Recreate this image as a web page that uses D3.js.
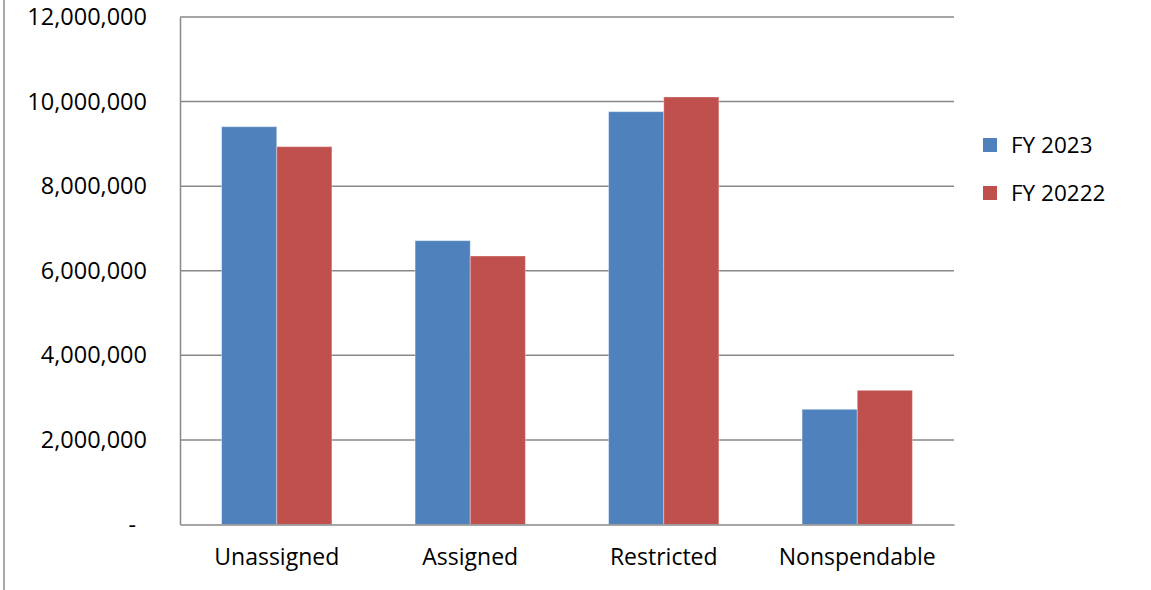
<!DOCTYPE html>
<html>
<head>
<meta charset="utf-8">
<script src="https://cdn.jsdelivr.net/npm/d3@7"></script>
<style>
  body { margin: 0; background: #fff; }
  text { font-family: "Open Sans", "Liberation Sans", sans-serif; fill: #000; }
</style>
</head>
<body>
<div class="chart"></div>
<script>
const categories = ["Unassigned", "Assigned", "Restricted", "Nonspendable"]
const seriesNames = ["FY 2023", "FY 20222"]
const fy2023 = [9406000, 6711000, 9761000, 2724000]
const fy2022 = [8934000, 6349000, 10109000, 3173000]
const yTicks = [0, 2000000, 4000000, 6000000, 8000000, 10000000, 12000000]
const colors = ["#4F81BD", "#C0504D"]

const width = 1151, height = 590
const margin = { top: 17, right: 197, bottom: 65.5, left: 180 }

const svg = d3.select(".chart")
  .append("svg")
  .attr("width", width)
  .attr("height", height)

// outer frame edge on the left
svg.append("line")
  .attr("x1", 4).attr("x2", 4)
  .attr("y1", 0).attr("y2", height)
  .attr("stroke", "#8c8c8c")
  .attr("stroke-width", 1.5)

const innerW = width - margin.left - margin.right
const innerH = height - margin.top - margin.bottom

const g = svg.append("g")
  .attr("transform", `translate(${margin.left},${margin.top})`)

const x = d3.scaleBand()
  .domain(categories)
  .range([0, innerW])
  .paddingInner(0.43)
  .paddingOuter(0.215)

const x1 = d3.scaleBand()
  .domain(seriesNames)
  .range([0, x.bandwidth()])

const y = d3.scaleLinear()
  .domain([0, 12000000])
  .range([innerH, 0])

// gridlines
g.selectAll(".grid")
  .data(yTicks.slice(1))
  .enter()
  .append("line")
  .attr("x1", 0).attr("x2", innerW)
  .attr("y1", d => y(d)).attr("y2", d => y(d))
  .attr("stroke", "#888")
  .attr("stroke-width", 1.5)

const fmt = d3.format(",")
const yAxis = g.append("g")
  .call(d3.axisLeft(y).tickValues(yTicks).tickSize(0).tickPadding(33)
    .tickFormat(d => d === 0 ? "-" : fmt(d)))
yAxis.select(".domain").attr("stroke", "#888").attr("stroke-width", 1.5)
yAxis.selectAll("text")
  .style("font-size", "23.5px")
  .attr("dx", d => d === 0 ? -11 : 0)

const rows = categories.map((c, i) => ({ cat: c, values: [fy2023[i], fy2022[i]] }))

const groups = g.selectAll(".cat")
  .data(rows)
  .enter()
  .append("g")
  .attr("transform", d => `translate(${x(d.cat)},0)`)

groups.selectAll("rect")
  .data(d => d.values.map((v, j) => ({ name: seriesNames[j], value: v, j: j })))
  .enter()
  .append("rect")
  .attr("x", d => x1(d.name))
  .attr("width", x1.bandwidth())
  .attr("y", d => y(d.value))
  .attr("height", d => y(0) - y(d.value))
  .attr("fill", d => colors[d.j])
  .attr("stroke", "rgba(255,255,255,0.35)")
  .attr("stroke-width", 1)

const xAxis = g.append("g")
  .attr("transform", `translate(0,${innerH})`)
  .call(d3.axisBottom(x).tickSize(0).tickPadding(24))
xAxis.select(".domain").attr("stroke", "#888").attr("stroke-width", 1.5)
xAxis.selectAll("text").style("font-size", "23px")

// legend
const legend = svg.append("g")
  .attr("transform", "translate(983,138)")

const items = legend.selectAll(".item")
  .data(seriesNames)
  .enter()
  .append("g")
  .attr("transform", (d, i) => `translate(0,${i * 48})`)

items.append("rect")
  .attr("width", 14).attr("height", 14)
  .attr("fill", (d, i) => colors[i])

items.append("text")
  .attr("x", 28)
  .attr("y", 15)
  .style("font-size", "22.5px")
  .text(d => d)
</script>
</body>
</html>
